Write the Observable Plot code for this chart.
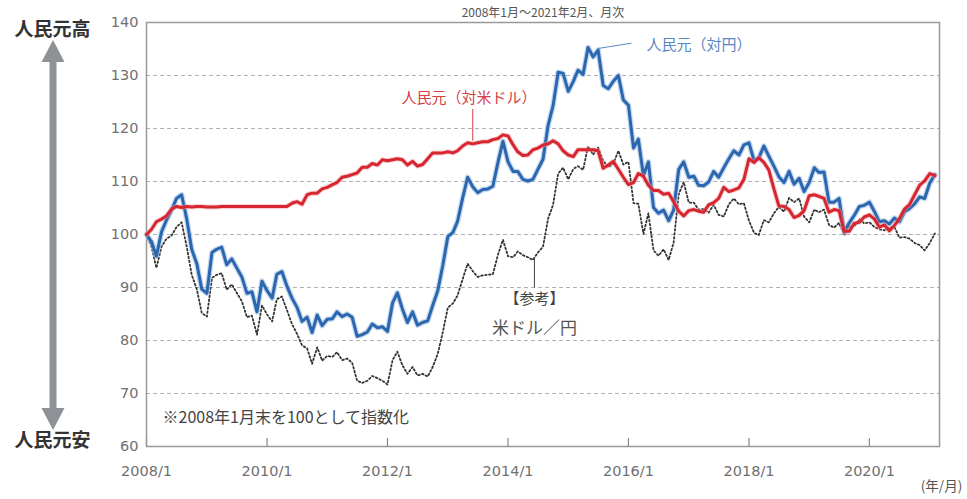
<!DOCTYPE html>
<html><head><meta charset="utf-8">
<script src="https://cdn.jsdelivr.net/npm/d3@7"></script>
<script src="https://cdn.jsdelivr.net/npm/@observablehq/plot@0.6"></script>
<style>body{margin:0;background:#fff;} svg{display:block}</style>
</head><body><div id="chart"></div>
<script>
// Monthly index values, 2008/1 = 100, from 2008/1 to 2021/2
const cnyJpy = [
 100.0, 98.6, 95.9, 100.5, 102.7, 104.6, 106.8, 107.5, 102.9, 97.2, 94.5, 89.7,
 88.9, 96.6, 97.2, 97.6, 94.3, 95.4, 93.7, 92.0, 88.9, 89.2, 85.4, 91.2,
 89.4, 88.0, 92.5, 93.0, 90.3, 88.0, 86.3, 83.6, 84.4, 81.5, 84.8, 82.8,
 84.0, 84.1, 85.4, 84.5, 85.0, 84.4, 80.8, 81.1, 81.6, 83.1, 82.4, 82.6,
 81.7, 87.1, 89.0, 85.9, 83.4, 85.4, 82.9, 83.4, 83.7, 86.6, 89.4, 94.1,
 99.6, 100.4, 102.5, 106.9, 110.8, 109.0, 107.9, 108.5, 108.6, 109.1, 113.6, 117.6,
 113.7, 111.9, 111.9, 110.4, 110.1, 110.4, 112.3, 114.2, 120.6, 124.3, 130.6, 130.4,
 127.0, 128.9, 131.0, 130.2, 135.3, 133.5, 134.8, 128.1, 127.5, 128.9, 130.0, 125.4,
 124.4, 116.3, 118.0, 111.1, 113.7, 105.1, 104.0, 104.6, 102.6, 104.6, 112.3, 113.7,
 110.8, 111.0, 109.3, 109.2, 109.9, 111.9, 110.8, 112.6, 114.3, 115.8, 115.0, 116.9,
 117.3, 113.9, 114.4, 116.7, 114.8, 112.9, 110.9, 109.8, 111.9, 109.5, 110.6, 108.1,
 109.8, 112.6, 111.7, 111.8, 106.1, 106.1, 106.8, 100.5, 102.2, 103.6, 105.3, 105.5,
 106.1, 104.3, 102.4, 102.6, 102.0, 103.1, 102.4, 104.3, 104.9, 105.8, 107.1, 106.8,
 109.7, 111.3
];
const cnyUsd = [
 100.0, 101.0, 102.4, 102.9, 103.5, 104.8, 105.3, 105.1, 105.3, 105.2, 105.3, 105.3,
 105.2, 105.2, 105.2, 105.3, 105.3, 105.3, 105.3, 105.3, 105.3, 105.3, 105.3, 105.3,
 105.3, 105.3, 105.3, 105.3, 105.3, 105.9, 106.2, 105.7, 107.5, 107.8, 107.8, 108.6,
 108.9, 109.4, 109.8, 110.8, 111.0, 111.3, 111.6, 112.7, 112.7, 113.4, 113.1, 114.1,
 113.9, 114.1, 114.3, 114.1, 113.1, 113.8, 112.9, 113.2, 114.3, 115.4, 115.4, 115.4,
 115.6, 115.4, 115.8, 116.7, 117.3, 117.1, 117.3, 117.5, 117.5, 117.9, 118.1, 118.8,
 118.6, 116.9, 115.6, 114.9, 115.0, 116.0, 116.3, 116.9, 117.1, 117.7, 117.1, 115.8,
 115.0, 114.7, 116.0, 116.0, 116.0, 116.0, 115.8, 112.5, 113.1, 113.8, 112.3, 110.8,
 109.4, 109.8, 111.5, 111.0, 109.3, 108.3, 108.3, 107.6, 107.8, 106.2, 104.4, 103.5,
 104.5, 104.7, 104.4, 104.2, 105.6, 106.0, 106.8, 108.9, 108.1, 108.4, 108.8, 110.4,
 114.3, 113.6, 114.5, 113.6, 112.2, 108.6, 105.4, 105.3, 104.7, 103.2, 103.6, 104.5,
 107.3, 107.5, 107.2, 106.8, 104.2, 104.7, 104.5, 100.6, 100.6, 102.1, 102.3, 103.3,
 103.7, 102.9, 101.4, 101.8, 100.7, 101.7, 103.0, 104.8, 105.7, 107.5, 109.3, 110.1,
 111.5, 111.1
];
const usdJpy = [
 100.0, 97.6, 93.7, 97.7, 99.2, 99.8, 101.4, 102.3, 97.7, 92.4, 89.7, 85.2,
 84.5, 91.8, 92.4, 92.7, 89.6, 90.6, 89.0, 87.4, 84.4, 84.7, 81.1, 86.6,
 84.9, 83.6, 87.8, 88.3, 85.8, 83.1, 81.3, 79.1, 78.5, 75.6, 78.7, 76.2,
 77.1, 76.9, 77.8, 76.3, 76.6, 75.8, 72.4, 72.0, 72.4, 73.3, 72.9, 72.4,
 71.7, 76.3, 77.9, 75.3, 73.7, 75.0, 73.4, 73.7, 73.2, 75.0, 77.5, 81.5,
 86.2, 87.0, 88.5, 91.6, 94.5, 93.1, 92.0, 92.3, 92.4, 92.5, 96.2, 99.0,
 95.9, 95.7, 96.8, 96.1, 95.7, 95.2, 96.6, 97.7, 103.0, 105.6, 111.5, 112.6,
 110.4, 112.4, 112.9, 112.2, 116.6, 115.1, 116.4, 113.9, 112.7, 113.3, 115.8, 113.2,
 113.7, 105.9, 105.8, 100.1, 104.0, 97.0, 96.0, 97.2, 95.2, 98.5, 107.6, 109.9,
 106.0, 106.0, 104.7, 104.8, 104.1, 105.6, 103.7, 103.4, 105.7, 106.8, 105.7, 105.9,
 102.6, 100.3, 99.9, 102.7, 102.3, 104.0, 105.2, 104.3, 106.9, 106.1, 106.8, 103.4,
 102.3, 104.7, 104.2, 104.7, 101.8, 101.3, 102.2, 99.9, 101.6, 101.5, 102.9, 102.1,
 102.3, 101.4, 101.0, 100.8, 101.3, 101.4, 99.4, 99.5, 99.2, 98.4, 98.0, 97.0,
 98.4, 100.2
];
const tickYears = [2008, 2010, 2012, 2014, 2016, 2018, 2020];
const xTickLabels = ["2008/1", "2010/1", "2012/1", "2014/1", "2016/1", "2018/1", "2020/1"];
const yTicks = [60, 70, 80, 90, 100, 110, 120, 130, 140];
const gridValues = [70, 80, 90, 100, 110, 120, 130];

const months = cnyJpy.map((_, i) => new Date(Date.UTC(2008, i, 1)));
const rowsOf = (vals) => vals.map((v, i) => ({date: months[i], value: v}));
const tickDates = tickYears.map(y => new Date(Date.UTC(y, 0, 1)));
const font = "'Noto Sans CJK JP', 'Noto Sans', sans-serif";
const numFont = "'DejaVu Sans', 'Noto Sans', sans-serif";

const plot = Plot.plot({
  width: 967, height: 499,
  marginLeft: 146, marginRight: 28, marginTop: 22, marginBottom: 53,
  style: {fontFamily: font, background: "#fff", overflow: "visible"},
  x: {type: "utc", domain: [new Date(Date.UTC(2008, 0, 1)), new Date(Date.UTC(2021, 2, 1))]},
  y: {domain: [60, 140]},
  marks: [
    Plot.ruleY(gridValues, {stroke: "#b0b0b0", strokeDasharray: "4,3", strokeWidth: 1}),
    Plot.ruleX(tickDates, {x: d => d, y1: 60, y2: 61.5, stroke: "#888", strokeWidth: 1.2}),
    Plot.frame({stroke: "#999", strokeWidth: 1.5}),
    Plot.axisY({ticks: yTicks, tickSize: 0, tickPadding: 8, fontSize: 14.5, fontFamily: numFont, color: "#707070", label: null}),
    Plot.axisX({ticks: tickDates, tickSize: 0, tickPadding: 19, fontSize: 14.5, fontFamily: numFont, color: "#707070", label: null,
      tickFormat: d => xTickLabels[tickYears.indexOf(d.getUTCFullYear())]}),
    // reference USD/JPY (dotted)
    Plot.line(rowsOf(usdJpy), {x: "date", y: "value", stroke: "#333", strokeWidth: 1.8, strokeDasharray: "1.6,2.4"}),
    // CNY/JPY (blue) with soft halo
    Plot.line(rowsOf(cnyJpy), {x: "date", y: "value", stroke: "#9cc0e6", strokeWidth: 5.5, strokeOpacity: 0.6}),
    Plot.line(rowsOf(cnyJpy), {x: "date", y: "value", stroke: "#2b66ae", strokeWidth: 3, strokeLinejoin: "round"}),
    // CNY/USD (red)
    Plot.line(rowsOf(cnyUsd), {x: "date", y: "value", stroke: "#f0a0a5", strokeWidth: 5, strokeOpacity: 0.5}),
    Plot.line(rowsOf(cnyUsd), {x: "date", y: "value", stroke: "#d7262f", strokeWidth: 3, strokeLinejoin: "round"}),
    // annotations
    Plot.text(["人民元（対米ドル）"], {x: new Date(Date.UTC(2013, 4, 10)), y: 125.8, fill: "#d64048", fontSize: 15, textAnchor: "middle"}),
    Plot.ruleX([0], {x: new Date(Date.UTC(2013, 5, 1)), y1: 123.6, y2: 117.6, stroke: "#d64048", strokeWidth: 1}),
    Plot.text(["人民元（対円）"], {x: new Date(Date.UTC(2016, 3, 20)), y: 135.7, fill: "#5b86bf", fontSize: 15, textAnchor: "start"}),
    Plot.link([0], {x1: new Date(Date.UTC(2015, 6, 1)), y1: 135.1, x2: new Date(Date.UTC(2016, 0, 20)), y2: 136.1, stroke: "#5b86bf", strokeWidth: 1}),
    Plot.text(["【参考】"], {x: new Date(Date.UTC(2014, 5, 10)), y: 87.8, fill: "#444", fontSize: 15, textAnchor: "middle"}),
    Plot.text(["米ドル／円"], {x: new Date(Date.UTC(2014, 5, 10)), y: 82.3, fill: "#555", fontSize: 17, textAnchor: "middle"}),
    Plot.ruleX([0], {x: new Date(Date.UTC(2014, 5, 10)), y1: 95.4, y2: 89.9, stroke: "#444", strokeWidth: 1}),
    Plot.text(["※2008年1月末を100として指数化"], {frameAnchor: "bottom-left", dx: 16, dy: -24, fill: "#444", fontSize: 16, letterSpacing: 1.8, textAnchor: "start"}),
    Plot.text(["人民元高"], {frameAnchor: "top-left", dx: -94, dy: 0, fill: "#333", fontSize: 19, fontWeight: "bold", textAnchor: "middle"}),
    Plot.text(["人民元安"], {frameAnchor: "bottom-left", dx: -94, dy: 0, fill: "#333", fontSize: 19, fontWeight: "bold", textAnchor: "middle"}),
    Plot.text(["(年/月)"], {frameAnchor: "bottom-right", dx: 2, dy: 44, fill: "#555", fontSize: 13.5, textAnchor: "middle"}),
    Plot.text(["2008年1月～2021年2月、月次"], {frameAnchor: "top", dx: 0, dy: -14, fill: "#555", fontSize: 12, textAnchor: "middle"})
  ]
});
document.getElementById("chart").appendChild(plot);

// vertical double arrow in the left margin
const svg = d3.select(plot);
const g = svg.append("g").attr("fill", "#8d9297");
g.append("rect").attr("x", 49.5).attr("y", 58).attr("width", 7).attr("height", 352);
g.append("path").attr("d", "M53,40 L41.5,62 L64.5,62 Z");
g.append("path").attr("d", "M53,430 L41.5,408 L64.5,408 Z");
</script>
</body></html>
